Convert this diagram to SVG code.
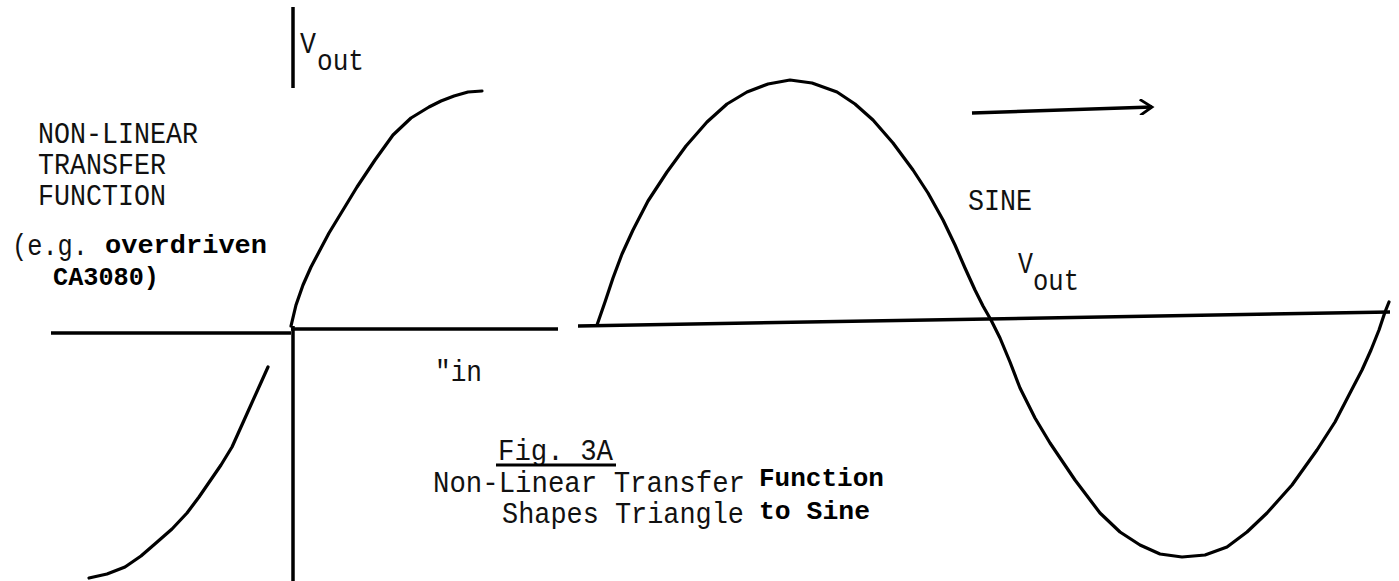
<svg xmlns="http://www.w3.org/2000/svg" width="1399" height="581" viewBox="0 0 1399 581">
<style>
.ln{stroke:#000;stroke-width:3.5;fill:none;stroke-linecap:butt}
.cv{stroke:#000;stroke-width:3.2;fill:none;stroke-linejoin:round;stroke-linecap:round}
.t{font-family:"Liberation Mono","Courier New",monospace;font-size:29px;fill:#111}
.b{font-family:"Liberation Mono","Courier New",monospace;font-size:25px;font-weight:bold;fill:#000}
</style>
<defs>
<marker id="ah" markerWidth="16" markerHeight="16" refX="13" refY="8" orient="auto" markerUnits="userSpaceOnUse">
<path d="M1,0 L13,8 L1,16" fill="none" stroke="#000" stroke-width="2.8"/>
</marker>
</defs>
<rect width="1399" height="581" fill="#fff"/>
<g id="axes">
<line class="ln" x1="293" y1="7" x2="293" y2="88"/>
<line class="ln" x1="293" y1="326" x2="293" y2="581"/>
<line class="ln" x1="51" y1="333" x2="291" y2="333"/>
<line class="ln" x1="291" y1="329" x2="558" y2="329"/>
<line class="ln" x1="578" y1="326" x2="1390" y2="312"/>
</g>
<g id="transfer-curve">
<path class="cv" d="M291,326 L296,305 L303,285 L311,267 L320,250 L329,233 L343,210 L357,187 L375,160 L393,135 L411,118 L429,107 L441,101 L454,96 L468,92 L482,91"/>
<path class="cv" d="M268,367 L259,387 L250,407 L241,427 L232,447 L221,465 L210,481 L199,497 L187,513 L172,529 L156,543 L141,556 L125,567 L107,574 L89,578"/>
</g>
<g id="sine-wave">
<path class="cv" d="M597,325 L605,302 L613,278 L622,254 L633,230 L648,201 L667,172 L686,146 L707,122 L727,104 L747,92 L768,84 L790,80 L812,83 L837,92 L855,104 L873,120 L893,143 L913,170 L928,193 L943,220 L955,245 L965,268 L975,290 L983,306 L991,320 L1000,338 L1010,362 L1020,388 L1035,418 L1050,443 L1075,480 L1100,513 L1120,532 L1140,545 L1160,554 L1182,557 L1205,555 L1227,547 L1247,532 L1267,513 L1292,485 L1317,450 L1335,422 L1350,393 L1362,370 L1371,350 L1379,330 L1385,312 L1389,302"/>
</g>
<g id="connectors">
<line class="ln" x1="972" y1="113" x2="1152" y2="107" marker-end="url(#ah)"/>
</g>
<g id="label-vout-top">
<text class="t" x="300" y="53" textLength="16" lengthAdjust="spacingAndGlyphs">V</text>
<text class="t" x="317" y="70" textLength="47" lengthAdjust="spacingAndGlyphs">out</text>
</g>
<g id="label-transfer">
<text class="t" x="38" y="143" textLength="160" lengthAdjust="spacingAndGlyphs">NON-LINEAR</text>
<text class="t" x="38" y="174" textLength="128" lengthAdjust="spacingAndGlyphs">TRANSFER</text>
<text class="t" x="38" y="205" textLength="128" lengthAdjust="spacingAndGlyphs">FUNCTION</text>
<text class="t" x="12" y="255" textLength="76" lengthAdjust="spacingAndGlyphs">(e.g.</text>
<text class="b" x="105" y="253" textLength="162" lengthAdjust="spacingAndGlyphs">overdriven</text>
<text class="b" x="53" y="285" textLength="106" lengthAdjust="spacingAndGlyphs">CA3080)</text>
</g>
<g id="label-vin">
<text class="t" x="435" y="381" textLength="47" lengthAdjust="spacingAndGlyphs">"in</text>
</g>
<g id="caption">
<text class="t" x="498" y="460" textLength="115" lengthAdjust="spacingAndGlyphs">Fig. 3A</text>
<line x1="496" y1="465" x2="616" y2="465" stroke="#000" stroke-width="3"/>
<text class="t" x="433" y="492" textLength="312" lengthAdjust="spacingAndGlyphs">Non-Linear Transfer</text>
<text class="b" x="759" y="486" textLength="125" lengthAdjust="spacingAndGlyphs">Function</text>
<text class="t" x="502" y="523" textLength="242" lengthAdjust="spacingAndGlyphs">Shapes Triangle</text>
<text class="b" x="759" y="519" textLength="111" lengthAdjust="spacingAndGlyphs">to Sine</text>
</g>
<g id="label-sine">
<text class="t" x="968" y="210" textLength="64" lengthAdjust="spacingAndGlyphs">SINE</text>
<text class="t" x="1018" y="273" textLength="15" lengthAdjust="spacingAndGlyphs">V</text>
<text class="t" x="1033" y="290" textLength="46" lengthAdjust="spacingAndGlyphs">out</text>
</g>
</svg>
